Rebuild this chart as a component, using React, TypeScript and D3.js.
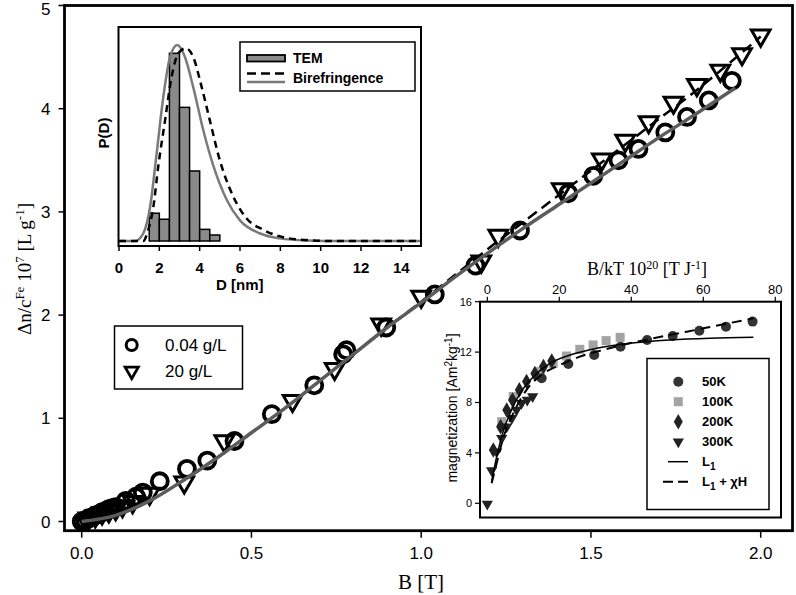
import React from 'react';
import * as d3 from 'd3';

// ---------- Main plot data ----------
const mainXTicks = [0, 0.5, 1.0, 1.5, 2.0];
const mainYTicks = [0, 1, 2, 3, 4, 5];

const circles004: [number, number][] = [
  [0.0, 0.0], [0.01, 0.01], [0.02, 0.03], [0.03, 0.04], [0.04, 0.06], [0.05, 0.07],
  [0.06, 0.09], [0.07, 0.1], [0.08, 0.12], [0.09, 0.13], [0.1, 0.14], [0.13, 0.2],
  [0.16, 0.24], [0.18, 0.28], [0.23, 0.39], [0.31, 0.51], [0.37, 0.59], [0.45, 0.78],
  [0.56, 1.04], [0.685, 1.32], [0.77, 1.62], [0.78, 1.66], [0.897, 1.88], [1.04, 2.2],
  [1.16, 2.48], [1.291, 2.82], [1.433, 3.18], [1.507, 3.35], [1.581, 3.5], [1.64, 3.61],
  [1.719, 3.77], [1.783, 3.92], [1.847, 4.08], [1.915, 4.27],
];

const triangles20: [number, number][] = [
  [0.02, 0.03], [0.04, 0.05], [0.06, 0.08], [0.08, 0.1], [0.1, 0.12], [0.12, 0.15],
  [0.15, 0.19], [0.2, 0.27], [0.302, 0.38], [0.42, 0.78], [0.621, 1.17], [0.745, 1.48],
  [0.882, 1.91], [1.0, 2.18], [1.177, 2.52], [1.227, 2.77], [1.414, 3.22], [1.532, 3.51],
  [1.601, 3.69], [1.67, 3.87], [1.743, 4.06], [1.812, 4.23], [1.881, 4.37], [1.945, 4.53],
  [2.0, 4.71],
];

const fitGray: [number, number][] = [
  [0, 0], [0.1, 0.06], [0.2, 0.2], [0.3, 0.4], [0.4, 0.62], [0.5, 0.86], [0.6, 1.1],
  [0.7, 1.36], [0.8, 1.62], [0.9, 1.88], [1.0, 2.12], [1.1, 2.37], [1.2, 2.61],
  [1.3, 2.84], [1.4, 3.06], [1.5, 3.28], [1.6, 3.5], [1.7, 3.72], [1.8, 3.93], [1.925, 4.2],
];

const fitDashed: [number, number][] = [
  [0, 0], [0.1, 0.06], [0.2, 0.2], [0.3, 0.4], [0.4, 0.62], [0.5, 0.86], [0.6, 1.1],
  [0.7, 1.36], [0.8, 1.62], [0.9, 1.88], [1.0, 2.13], [1.1, 2.39], [1.2, 2.65],
  [1.3, 2.9], [1.4, 3.15], [1.5, 3.4], [1.6, 3.65], [1.7, 3.9], [1.8, 4.15], [1.9, 4.42], [2.0, 4.7],
];

// ---------- Inset 1 (size distribution) ----------
const temBinStart = [1.5, 2.0, 2.5, 3.0, 3.5, 4.0, 4.5];
const temHeights = [0.148, 0.116, 1.0, 0.712, 0.373, 0.062, 0.032];
const temBinWidth = 0.5;

const pdfGray: [number, number][] = [
  [0, 0], [0.79, 0], [1.2, 0.04], [1.54, 0.18], [1.87, 0.47], [2.2, 0.77], [2.53, 0.98],
  [2.89, 1.044], [3.27, 0.98], [3.68, 0.82], [4.18, 0.59], [4.68, 0.4], [5.34, 0.22],
  [6.0, 0.11], [7.0, 0.04], [7.98, 0.014], [9.3, 0.003], [11, 0], [15, 0],
];

const pdfBiref: [number, number][] = [
  [0, 0], [1.2, 0], [1.45, 0.06], [1.7, 0.18], [1.95, 0.4], [2.28, 0.64], [2.61, 0.875],
  [2.94, 1.0], [3.32, 1.027], [3.68, 0.98], [4.1, 0.82], [4.51, 0.64], [5.0, 0.43],
  [5.67, 0.236], [6.33, 0.12], [7.15, 0.06], [8.15, 0.02], [9.3, 0.005], [10.6, 0], [15, 0],
];

const insetDTicks = [0, 2, 4, 6, 8, 10, 12, 14];

// ---------- Inset 2 (magnetization) ----------
const insetBTicks = [0, 20, 40, 60, 80];
const insetMTicks = [0, 4, 8, 12, 16];

const mag50K: [number, number][] = [
  [15.1, 9.92], [22.5, 11.06], [29.7, 11.77], [37.0, 12.43], [44.4, 12.96],
  [51.5, 13.28], [58.9, 13.7], [66.3, 14.02], [73.7, 14.42],
];
const mag100K: [number, number][] = [
  [4.0, 6.48], [7.2, 8.47], [14.6, 10.45], [18.3, 11.1], [22.0, 11.69],
  [25.7, 12.22], [29.4, 12.57], [33.0, 12.91], [36.9, 13.17],
];
const mag200K: [number, number][] = [
  [1.67, 4.23], [3.7, 6.08], [5.4, 7.4], [7.0, 8.2], [8.9, 9.0], [10.9, 9.66],
  [13.2, 10.3], [15.6, 10.85], [17.9, 11.3],
];
const mag300K: [number, number][] = [
  [0, -0.05], [1.2, 2.6], [2.6, 4.1], [4.0, 5.16], [5.4, 6.08], [6.8, 6.75],
  [8.1, 7.4], [9.5, 7.94], [11.1, 8.2], [12.6, 8.47],
];
const curveL1: [number, number][] = [
  [1.2, 1.72], [2.6, 3.7], [4.4, 5.69], [6.3, 7.14], [9.1, 8.73], [12.8, 10.05],
  [17.4, 11.11], [23.0, 11.77], [30.4, 12.3], [39.6, 12.7], [50.7, 12.96],
  [61.9, 13.1], [73.9, 13.17],
];
const curveL1chi: [number, number][] = [
  [1.2, 1.59], [2.6, 3.17], [4.4, 5.16], [7.2, 7.14], [10.9, 9.0], [15.6, 10.3],
  [20.2, 10.98], [25.7, 11.64], [32.2, 12.17], [38.7, 12.65], [46.1, 13.1],
  [55.4, 13.62], [64.6, 14.15], [73.9, 14.68],
];

const SANS = "'Liberation Sans', Arial, sans-serif";
const SERIF = "'Liberation Serif', 'Times New Roman', serif";

export default function App() {
  // main scales
  const x = d3.scaleLinear().domain([0, 2]).range([81.7, 760.7]);
  const y = d3.scaleLinear().domain([0, 5]).range([521.5, 5.5]);
  const frame = { l: 64.5, r: 792.5, t: 5.5, b: 530.7 };

  const lineMain = d3.line<[number, number]>().x(d => x(d[0])).y(d => y(d[1])).curve(d3.curveMonotoneX);
  const triDown = d3.symbol().type(d3.symbolTriangle).size(150)();
  const triDownSmall = d3.symbol().type(d3.symbolTriangle).size(75)();

  // inset 1
  const xD = d3.scaleLinear().domain([0, 15]).range([119, 421.5]);
  const yP = d3.scaleLinear().domain([0, 1]).range([241, 53.3]);
  const f1 = { l: 118.5, r: 421, t: 27, b: 246 };
  const lineP = d3.line<[number, number]>().x(d => xD(d[0])).y(d => yP(d[1])).curve(d3.curveMonotoneX);

  // inset 2
  const xB = d3.scaleLinear().domain([0, 80]).range([487.3, 775.3]);
  const yM = d3.scaleLinear().domain([0, 16]).range([503.3, 301.7]);
  const f2 = { l: 480, r: 781, t: 301.7, b: 517.5 };
  const lineM = d3.line<[number, number]>().x(d => xB(d[0])).y(d => yM(d[1])).curve(d3.curveMonotoneX);
  const diamond = d3.symbol().type(d3.symbolDiamond).size(70)();
  const triSmall = d3.symbol().type(d3.symbolTriangle).size(55)();

  const legend2Rows = [381.7, 401.7, 421.7, 441.7, 461.7, 481.7];

  return (
    <svg width={796} height={595} style={{ position: 'absolute', left: 0, top: 0, background: '#fff' }}>
      <rect x={0} y={0} width={796} height={595} fill="#fff" />

      {/* main data */}
      <g>
        {circles004.map((d, i) => (
          <circle key={'c' + i} cx={x(d[0])} cy={y(d[1])} r={8} fill="none" stroke="#000" strokeWidth={3.8} />
        ))}
        {triangles20.map((d, i) => (
          <path key={'t' + i} d={triDown!} transform={`translate(${x(d[0])},${y(d[1])}) rotate(180)`} fill="none" stroke="#000" strokeWidth={3} />
        ))}
        <path d={lineMain(fitDashed)!} fill="none" stroke="#000" strokeWidth={2.5} strokeDasharray="11,6" />
        <path d={lineMain(fitGray)!} fill="none" stroke="#5c5c5c" strokeWidth={3.5} />
      </g>

      {/* main frame */}
      <rect x={frame.l} y={frame.t} width={frame.r - frame.l} height={frame.b - frame.t} fill="none" stroke="#000" strokeWidth={2.8} />
      {mainYTicks.map(t => (
        <g key={'yt' + t}>
          <line x1={frame.l - 6} x2={frame.l} y1={y(t)} y2={y(t)} stroke="#000" strokeWidth={1.5} />
          <text x={frame.l - 14} y={Math.max(y(t), 9)} dy="0.36em" textAnchor="end" fontFamily={SANS} fontSize={17}>{t}</text>
        </g>
      ))}
      {mainXTicks.map(t => (
        <g key={'xt' + t}>
          <line x1={x(t)} x2={x(t)} y1={frame.b} y2={frame.b + 7} stroke="#000" strokeWidth={1.5} />
          <text x={x(t)} y={553} dy="0.36em" textAnchor="middle" fontFamily={SANS} fontSize={17}>{t.toFixed(1)}</text>
        </g>
      ))}
      <text x={421} y={581} dy="0.36em" textAnchor="middle" fontFamily={SERIF} fontSize={21}>B [T]</text>
      <text transform="translate(24,269) rotate(-90)" textAnchor="middle" fontFamily={SERIF} fontSize={19} dy="0.35em">
        Δn/c<tspan dy={-7} fontSize={13}>Fe</tspan><tspan dy={7}> 10</tspan><tspan dy={-7} fontSize={13}>7</tspan><tspan dy={7}> [L g</tspan><tspan dy={-7} fontSize={13}>-1</tspan><tspan dy={7}>]</tspan>
      </text>

      {/* main legend */}
      <rect x={114.5} y={326} width={128} height={63} fill="#fff" stroke="#000" strokeWidth={1.5} />
      <circle cx={131.7} cy={345} r={5.5} fill="none" stroke="#000" strokeWidth={3} />
      <path d={triDownSmall!} transform="translate(131.7,371) rotate(180)" fill="none" stroke="#000" strokeWidth={2.8} />
      <text x={165} y={345} dy="0.36em" fontFamily={SANS} fontSize={17}>0.04 g/L</text>
      <text x={165} y={371} dy="0.36em" fontFamily={SANS} fontSize={17}>20 g/L</text>

      {/* ---------- Inset 1 ---------- */}
      <rect x={f1.l} y={f1.t} width={f1.r - f1.l} height={f1.b - f1.t} fill="#fff" />
      {temBinStart.map((b, i) => (
        <rect key={'bar' + i} x={xD(b)} y={yP(temHeights[i])} width={xD(b + temBinWidth) - xD(b)} height={yP(0) - yP(temHeights[i])}
          fill="#8a8a8a" stroke="#000" strokeWidth={1.5} />
      ))}
      <path d={lineP(pdfGray)!} fill="none" stroke="#7a7a7a" strokeWidth={2.5} />
      <path d={lineP(pdfBiref)!} fill="none" stroke="#000" strokeWidth={2.5} strokeDasharray="7,5" />
      <rect x={f1.l} y={f1.t} width={f1.r - f1.l} height={f1.b - f1.t} fill="none" stroke="#000" strokeWidth={2} />
      {insetDTicks.map(t => (
        <g key={'dt' + t}>
          <line x1={xD(t)} x2={xD(t)} y1={f1.b} y2={f1.b + 5} stroke="#000" strokeWidth={1.5} />
          <text x={xD(t)} y={268} dy="0.36em" textAnchor="middle" fontFamily={SANS} fontWeight="bold" fontSize={15}>{t}</text>
        </g>
      ))}
      <text x={f1.l + (f1.r - f1.l) / 2 - 30} y={285} dy="0.36em" textAnchor="middle" fontFamily={SANS} fontWeight="bold" fontSize={15}>D [nm]</text>
      <text transform="translate(104,133) rotate(-90)" dy="0.36em" textAnchor="middle" fontFamily={SANS} fontWeight="bold" fontSize={15}>P(D)</text>
      {/* inset 1 legend */}
      <rect x={240} y={42} width={175} height={49} fill="#fff" stroke="#000" strokeWidth={1.5} />
      <rect x={247} y={55} width={38} height={6.5} fill="#8a8a8a" stroke="#000" strokeWidth={1.8} />
      <line x1={247} x2={285} y1={73.5} y2={73.5} stroke="#000" strokeWidth={2.5} strokeDasharray="9,5" />
      <line x1={247} x2={285} y1={82} y2={82} stroke="#7a7a7a" strokeWidth={2.5} />
      <text x={293} y={58} dy="0.36em" fontFamily={SANS} fontWeight="bold" fontSize={14}>TEM</text>
      <text x={293} y={78} dy="0.36em" fontFamily={SANS} fontWeight="bold" fontSize={14}>Birefringence</text>

      {/* ---------- Inset 2 ---------- */}
      <rect x={f2.l} y={f2.t} width={f2.r - f2.l} height={f2.b - f2.t} fill="#fff" />
      {mag100K.map((d, i) => (
        <rect key={'m100' + i} x={xB(d[0]) - 4.5} y={yM(d[1]) - 4.5} width={9} height={9} fill="#a3a3a3" />
      ))}
      {mag50K.map((d, i) => (
        <circle key={'m50' + i} cx={xB(d[0])} cy={yM(d[1])} r={5} fill="#333" />
      ))}
      {mag200K.map((d, i) => (
        <path key={'m200' + i} d={diamond!} transform={`translate(${xB(d[0])},${yM(d[1])})`} fill="#222" />
      ))}
      {mag300K.map((d, i) => (
        <path key={'m300' + i} d={triSmall!} transform={`translate(${xB(d[0])},${yM(d[1])}) rotate(180)`} fill="#222" />
      ))}
      <path d={lineM(curveL1)!} fill="none" stroke="#000" strokeWidth={1.5} />
      <path d={lineM(curveL1chi)!} fill="none" stroke="#000" strokeWidth={2} strokeDasharray="10,6" />
      <rect x={f2.l} y={f2.t} width={f2.r - f2.l} height={f2.b - f2.t} fill="none" stroke="#000" strokeWidth={2} />
      {insetBTicks.map(t => (
        <g key={'bt' + t}>
          <line x1={xB(t)} x2={xB(t)} y1={f2.t - 5} y2={f2.t} stroke="#000" strokeWidth={1.2} />
          <text x={xB(t)} y={289} dy="0.36em" textAnchor="middle" fontFamily={SANS} fontSize={13}>{t}</text>
        </g>
      ))}
      {insetMTicks.map(t => (
        <g key={'mt' + t}>
          <line x1={f2.l - 5} x2={f2.l} y1={yM(t)} y2={yM(t)} stroke="#000" strokeWidth={1.2} />
          <text x={f2.l - 8} y={yM(t)} dy="0.36em" textAnchor="end" fontFamily={SANS} fontSize={11}>{t}</text>
        </g>
      ))}
      <text x={647} y={269} dy="0.36em" textAnchor="middle" fontFamily={SERIF} fontSize={18}>
        B/kT 10<tspan dy={-6} fontSize={12}>20</tspan><tspan dy={6}> [T J</tspan><tspan dy={-6} fontSize={12}>-1</tspan><tspan dy={6}>]</tspan>
      </text>
      <text transform="translate(452,408) rotate(-90)" dy="0.36em" textAnchor="middle" fontFamily={SANS} fontSize={14}>
        magnetization [Am<tspan dy={-5} fontSize={10}>2</tspan><tspan dy={5}>kg</tspan><tspan dy={-5} fontSize={10}>-1</tspan><tspan dy={5}>]</tspan>
      </text>
      {/* inset 2 legend */}
      <rect x={647} y={358.5} width={122} height={151} fill="#fff" stroke="#000" strokeWidth={1.5} />
      <circle cx={678.3} cy={legend2Rows[0]} r={5} fill="#333" />
      <rect x={678.3 - 4.5} y={legend2Rows[1] - 4.5} width={9} height={9} fill="#a3a3a3" />
      <path d={diamond!} transform={`translate(678.3,${legend2Rows[2]})`} fill="#222" />
      <path d={triSmall!} transform={`translate(678.3,${legend2Rows[3]}) rotate(180)`} fill="#222" />
      <line x1={668} x2={688} y1={legend2Rows[4]} y2={legend2Rows[4]} stroke="#000" strokeWidth={1.5} />
      <line x1={663} x2={692} y1={legend2Rows[5]} y2={legend2Rows[5]} stroke="#000" strokeWidth={2} strokeDasharray="10,5" />
      {['50K', '100K', '200K', '300K'].map((s, i) => (
        <text key={s} x={702} y={legend2Rows[i]} dy="0.36em" fontFamily={SANS} fontWeight="bold" fontSize={13}>{s}</text>
      ))}
      <text x={702} y={legend2Rows[4]} dy="0.36em" fontFamily={SANS} fontWeight="bold" fontSize={13}>
        L<tspan dy={4} fontSize={10}>1</tspan>
      </text>
      <text x={702} y={legend2Rows[5]} dy="0.36em" fontFamily={SANS} fontWeight="bold" fontSize={13}>
        L<tspan dy={4} fontSize={10}>1</tspan><tspan dy={-4}> + χH</tspan>
      </text>
    </svg>
  );
}
